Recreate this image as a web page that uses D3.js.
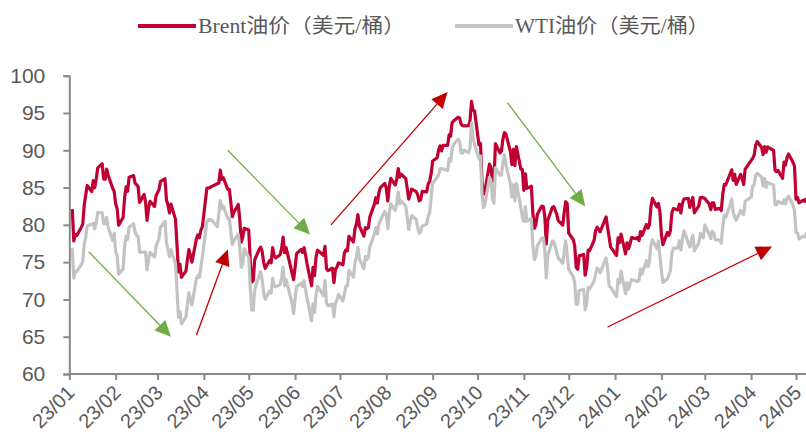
<!DOCTYPE html>
<html>
<head>
<meta charset="utf-8">
<script src="https://cdn.jsdelivr.net/npm/d3@7"></script>
<style>
  html, body { margin: 0; padding: 0; background: #fff; }
  svg { display: block; }
</style>
</head>
<body>
<svg id="chart" width="806" height="445"></svg>
<script>
// Daily closes, one row per trading week (Mon..Fri); null = market closed.
// Weeks start Monday 2023-01-02.
const brent = [
  null, 82.10, 77.84, 78.69, 78.57,
  79.65, 80.10, 82.67, 84.03, 85.28,
  84.46, 85.92, 84.98, 86.16, 87.63,
  88.19, 86.13, 86.12, 87.47, 86.66,
  84.90, 84.49, 82.84, 82.17, 79.94,
  80.99, 83.69, 85.09, 84.50, 86.39,
  86.61, 85.58, 85.38, 85.14, 83.00,
  84.07, 83.05, 80.60, 82.21, 83.16,
  82.45, 83.89, 84.31, 84.75, 85.83,
  86.18, 83.29, 82.66, 81.59, 82.78,
  80.77, 77.45, 73.69, 74.70, 72.97,
  73.79, 75.32, 76.69, 75.91, 74.99,
  78.12, 78.65, 78.28, 79.27, 79.77,
  84.93, 84.94, 84.99, 85.12, null,
  null, 85.61, 87.33, 86.09, 86.31,
  84.76, 84.77, 83.12, 81.10, 81.66,
  82.73, 80.77, 77.69, 78.37, 79.54,
  79.31, 75.32, 72.33, 72.50, 75.30,
  76.72, 77.01, 76.41, 74.98, 74.17,
  75.23, 74.91, 76.96, 75.86, 75.58,
  75.99, 76.84, 78.36, 76.26, 76.95,
  null, 73.54, 72.66, 74.28, 76.13,
  76.71, 76.29, 76.95, 75.96, 74.79,
  71.84, 74.29, 73.20, 75.67, 76.61,
  76.09, 75.90, 77.12, 74.14, 73.85,
  74.18, 72.26, 74.03, 74.34, 74.90,
  74.65, 76.25, 76.65, 76.52, 78.47,
  77.69, 79.40, 80.11, 81.36, 79.87,
  78.50, 79.63, 79.46, 79.64, 81.07,
  82.74, 83.64, 82.92, 84.24, 84.99,
  85.56, 84.91, 83.20, 85.14, 86.24,
  85.34, 86.17, 87.55, 86.40, 86.81,
  86.21, 84.89, 83.45, 84.12, 84.80,
  84.46, 84.03, 83.21, 83.36, 84.48,
  84.42, 85.49, 85.86, 86.83, 88.55,
  89.00, 90.04, 90.60, 89.92, 90.65,
  90.64, 92.06, 91.88, 93.70, 93.93,
  94.43, 94.34, 93.53, 93.30, 93.27,
  93.29, 93.96, 96.55, 95.38, 95.31,
  90.71, 90.92, 85.81, 84.07, 84.58,
  88.15, 87.65, 85.82, 86.00, 90.89,
  89.65, 89.90, 91.50, 92.38, 92.16,
  89.83, 88.07, 90.13, 87.93, 90.48,
  87.45, 87.41, 84.63, 86.85, 84.89,
  85.18, 81.61, 79.54, 80.01, 81.43,
  82.52, 82.47, 81.18, 77.42, 80.61,
  82.32, 82.45, 81.96, 81.42, 80.58,
  79.98, 81.68, 83.10, 82.83, 78.88,
  78.03, 77.20, 74.30, 74.05, 75.84,
  76.03, 73.24, 74.26, 76.61, 76.55,
  77.95, 79.23, 79.70, 79.39, 79.07,
  null, 81.07, 79.65, 78.39, 77.04,
  null, 75.89, 78.25, 77.59, 78.76,
  76.12, 77.59, 76.80, 77.41, 78.29,
  78.15, 78.29, 77.88, 79.10, 78.56,
  80.06, 79.55, 80.04, 82.43, 83.55,
  82.40, 82.87, 81.71, 78.70, 77.33,
  78.99, 78.59, 79.21, 81.63, 82.19,
  82.00, 82.77, 81.60, 82.86, 83.47,
  83.56, 82.34, 83.03, 83.67, 81.62,
  82.53, 83.65, 83.68, 83.62, 83.55,
  82.80, 82.04, 82.96, 82.96, 82.08,
  82.21, 81.92, 84.03, 85.42, 85.34,
  86.89, 87.38, 85.95, 86.78, 85.43,
  86.75, 86.25, 85.41, 87.48, null,
  null, 88.92, 89.35, 90.65, 91.17,
  90.38, 89.42, 90.48, 89.74, 90.45,
  90.10, 90.02, 87.29, 87.11, 87.29,
  86.24, 88.42, 88.02, 89.01, 89.50,
  88.40, 87.86, 83.44, 83.67, 82.96,
  83.33, 83.16, 83.58, null, null
];

const wti = [
  null, 76.93, 72.84, 73.67, 73.77,
  74.63, 75.12, 77.41, 78.39, 79.86,
  null, 80.18, 79.48, 80.33, 81.64,
  81.62, 80.13, 80.15, 81.01, 79.68,
  77.90, 78.87, 76.41, 75.88, 73.39,
  74.11, 77.14, 78.47, 78.06, 79.72,
  80.14, 79.06, 78.59, 78.49, 76.34,
  null, 76.36, 73.95, 75.39, 76.32,
  75.68, 77.05, 77.69, 78.16, 79.68,
  80.46, 77.58, 76.66, 75.72, 76.68,
  74.80, 71.33, 67.61, 68.35, 66.74,
  67.64, 69.33, 70.90, 69.96, 69.26,
  72.81, 73.20, 72.97, 74.37, 75.67,
  80.42, 80.71, 80.61, 80.70, null,
  79.74, 81.53, 83.26, 82.16, 82.52,
  80.83, 80.86, 79.16, 77.37, 77.87,
  78.76, 77.07, 74.30, 74.76, 76.78,
  75.66, 71.66, 68.60, 68.56, 71.34,
  73.16, 73.71, 72.56, 70.87, 70.04,
  71.11, 70.86, 72.83, 71.86, 71.69,
  71.99, 72.91, 74.34, 71.83, 72.67,
  null, 69.46, 68.09, 70.10, 71.74,
  72.15, 71.74, 72.53, 71.29, 70.17,
  67.12, 69.42, 68.27, 70.62, 71.78,
  null, 70.50, 72.53, 69.51, 69.16,
  69.37, 67.70, 69.56, 69.86, 70.64,
  69.79, null, 71.79, 71.80, 73.86,
  72.99, 74.83, 75.75, 77.00, 75.42,
  74.15, 75.75, 75.35, 75.63, 77.07,
  78.74, 79.63, 78.78, 80.09, 80.58,
  81.80, 81.37, 79.49, 81.55, 82.82,
  81.94, 82.92, 84.40, 82.82, 83.19,
  82.51, 80.99, 79.38, 80.39, 81.25,
  80.72, 79.64, 78.89, 79.05, 79.83,
  80.10, 81.16, 81.63, 83.63, 85.55,
  null, 86.69, 87.54, 87.51, 87.51,
  87.29, 88.84, 88.52, 90.16, 90.77,
  91.48, 91.20, 89.66, 89.63, 90.03,
  89.68, 90.39, 93.68, 91.71, 90.79,
  88.82, 89.23, 84.22, 82.31, 82.79,
  86.38, 85.97, 83.49, 82.91, 87.69,
  86.66, 86.66, 88.32, 89.37, 88.08,
  85.49, 83.74, 85.39, 83.21, 85.54,
  82.31, 81.02, 80.44, 82.46, 80.51,
  80.82, 77.37, 75.33, 75.74, 77.17,
  78.26, 78.26, 76.66, 72.90, 75.89,
  77.83, 77.77, 77.10, null, 75.54,
  74.86, 76.41, 77.86, 75.96, 74.07,
  73.04, 72.32, 69.38, 69.34, 71.23,
  71.32, 68.61, 69.47, 71.58, 71.43,
  72.47, 73.44, 74.22, 73.89, 73.56,
  null, 75.57, 74.11, 71.77, 71.65,
  null, 70.38, 72.70, 72.19, 73.81,
  70.77, 72.24, 71.37, 72.02, 72.68,
  null, 72.40, 72.56, 74.08, 73.41,
  75.19, 74.37, 75.09, 77.36, 78.01,
  76.78, 77.82, 75.85, 73.82, 72.28,
  72.78, 73.31, 73.86, 76.22, 76.84,
  76.92, 77.87, 76.64, 78.03, 79.19,
  null, 77.04, 77.91, 78.61, 76.49,
  77.58, 78.87, 78.54, 78.26, 79.97,
  78.74, 78.15, 79.13, 78.93, 78.01,
  77.93, 77.56, 79.72, 81.26, 81.04,
  82.72, 83.47, 81.68, 81.07, 80.63,
  81.95, 81.62, 81.35, 83.17, null,
  83.71, 85.15, 85.43, 86.59, 86.91,
  86.43, 85.23, 86.21, 85.02, 85.66,
  85.41, 85.36, 82.69, 82.73, 83.14,
  82.85, 83.36, 82.81, 83.57, 83.85,
  82.63, 81.93, 79.00, 78.95, 78.11,
  78.48, 78.38, 78.99, null, null
];

const seriesNames = ["Brent油价（美元/桶）", "WTI油价（美元/桶）"];
const monthLabels = ["23/01","23/02","23/03","23/04","23/05","23/06","23/07","23/08",
                     "23/09","23/10","23/11","23/12","24/01","24/02","24/03","24/04","24/05"];
const yTicks = [60, 65, 70, 75, 80, 85, 90, 95, 100];

// Trend arrows: [date, price] tail -> head; kind "down" = green, "up" = red
const trendArrows = [
  { from: ["2023-01-14", 76.4], to: ["2023-03-10", 65.0], kind: "down" },
  { from: ["2023-03-27", 65.2], to: ["2023-04-17", 76.7], kind: "up" },
  { from: ["2023-04-17", 90.0], to: ["2023-06-11", 78.7], kind: "down" },
  { from: ["2023-06-25", 80.0], to: ["2023-09-11", 97.8], kind: "up" },
  { from: ["2023-10-21", 96.4], to: ["2023-12-12", 82.5], kind: "down" },
  { from: ["2023-12-27", 66.3], to: ["2024-04-15", 77.1], kind: "up" }
];

const svg = d3.select("#chart");
const W = 806, H = 445;
const parse = d3.timeParse("%Y-%m-%d");

// trading-day dates: Monday 2023-01-02 onward, five per week
const firstMonday = new Date(2023, 0, 2);
const dates = d3.range(brent.length).map(i =>
  d3.timeDay.offset(firstMonday, Math.floor(i / 5) * 7 + (i % 5)));

const x = d3.scaleTime()
  .domain([new Date(2023, 0, 1), new Date(2024, 4, 1)])
  .range([69.3, 796]);
const y = d3.scaleLinear().domain([60, 100]).range([374, 75.7]);

const axisColor = "#898989";
const labelColor = "#595959";

// y axis
const yAxis = svg.append("g")
  .attr("transform", `translate(${x.range()[0]},0)`)
  .call(d3.axisLeft(y).tickValues(yTicks).tickSize(6).tickPadding(18).tickFormat(d3.format("d")));
yAxis.select(".domain").attr("stroke", axisColor).attr("stroke-width", 2);
yAxis.selectAll(".tick line").attr("stroke", axisColor).attr("stroke-width", 2);
yAxis.selectAll(".tick text")
  .attr("fill", labelColor)
  .style("font-family", "'Liberation Sans', Arial, sans-serif")
  .style("font-size", "21px");

// x axis
const monthTicks = d3.timeMonth.range(new Date(2023, 0, 1), new Date(2024, 4, 2));
const xAxis = svg.append("g")
  .attr("transform", `translate(0,${y(60)})`)
  .call(d3.axisBottom(x).tickValues(monthTicks).tickSize(6)
    .tickFormat((d, i) => monthLabels[i]));
xAxis.select(".domain").remove();
xAxis.append("line")
  .attr("x1", x.range()[0]).attr("x2", W)
  .attr("stroke", axisColor).attr("stroke-width", 2);
xAxis.selectAll(".tick line").attr("stroke", axisColor).attr("stroke-width", 2);
xAxis.selectAll(".tick text")
  .attr("fill", labelColor)
  .attr("text-anchor", "end")
  .attr("dy", null)
  .attr("y", null)
  .attr("transform", "translate(6,20) rotate(-45)")
  .style("font-family", "'Liberation Sans', Arial, sans-serif")
  .style("font-size", "20px");

// price lines
const line = d3.line()
  .x(d => x(d.date))
  .y(d => y(d.value));

const brentPts = dates.map((d, i) => ({ date: d, value: brent[i] })).filter(p => p.value != null);
const wtiPts = dates.map((d, i) => ({ date: d, value: wti[i] })).filter(p => p.value != null);

svg.append("path").datum(brentPts)
  .attr("d", line).attr("fill", "none")
  .attr("stroke", "#C00032").attr("stroke-width", 3.2)
  .attr("stroke-linejoin", "round");
svg.append("path").datum(wtiPts)
  .attr("d", line).attr("fill", "none")
  .attr("stroke", "#C3C3C3").attr("stroke-width", 3.2)
  .attr("stroke-linejoin", "round");

// trend arrows
const arrowColor = { down: "#70AD47", up: "#C00000" };
const headLen = 16, headHalf = 7.5;
trendArrows.forEach(a => {
  const x1 = x(parse(a.from[0])), y1 = y(a.from[1]);
  const x2 = x(parse(a.to[0])), y2 = y(a.to[1]);
  const len = Math.hypot(x2 - x1, y2 - y1);
  const ux = (x2 - x1) / len, uy = (y2 - y1) / len;
  const bx = x2 - ux * headLen, by = y2 - uy * headLen;
  const c = arrowColor[a.kind];
  svg.append("line")
    .attr("x1", x1).attr("y1", y1).attr("x2", bx).attr("y2", by)
    .attr("stroke", c).attr("stroke-width", 1.3);
  svg.append("path")
    .attr("d", `M${x2},${y2}L${bx - uy * headHalf},${by + ux * headHalf}L${bx + uy * headHalf},${by - ux * headHalf}Z`)
    .attr("fill", c);
});

// legend
const legend = [
  { name: seriesNames[0], color: "#C00032", x: 138, textW: 207 },
  { name: seriesNames[1], color: "#C3C3C3", x: 455, textW: 194 }
];
legend.forEach(l => {
  const g = svg.append("g").attr("transform", `translate(${l.x},26)`);
  g.append("line").attr("x1", 0).attr("x2", 58)
    .attr("stroke", l.color).attr("stroke-width", 4);
  g.append("text")
    .attr("x", 60).attr("y", 7)
    .attr("fill", labelColor)
    .attr("textLength", l.textW).attr("lengthAdjust", "spacingAndGlyphs")
    .style("font-family", "'Liberation Serif', 'Noto Sans CJK SC', serif")
    .style("font-size", "20px")
    .text(l.name);
});
</script>
</body>
</html>
